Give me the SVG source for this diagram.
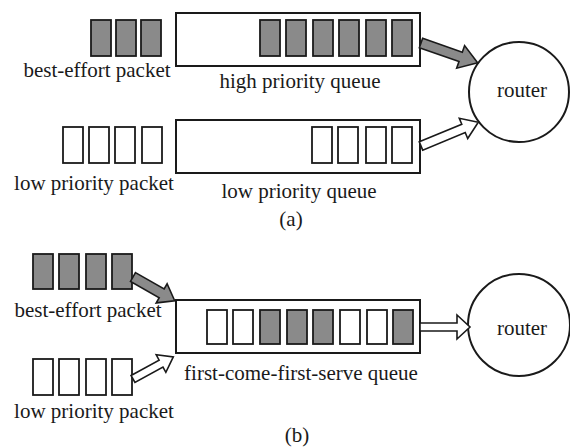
<svg xmlns="http://www.w3.org/2000/svg" width="570" height="447" viewBox="0 0 570 447">
<defs>
<style>
text{font-family:"Liberation Serif","Times New Roman",serif;font-size:21px;fill:#1a1a1a;text-anchor:middle}
.q{fill:#fff;stroke:#1a1a1a;stroke-width:2}
.g{fill:#8a8a8a;stroke:#1a1a1a;stroke-width:1.8}
.w{fill:#fff;stroke:#1a1a1a;stroke-width:1.8}
.r{fill:#fff;stroke:#1a1a1a;stroke-width:2}
.ag{fill:#8a8a8a;stroke:#1a1a1a;stroke-width:1.6;stroke-linejoin:miter}
.aw{fill:#fff;stroke:#1a1a1a;stroke-width:1.6;stroke-linejoin:miter}
</style>
</defs>
<rect width="570" height="447" fill="#fff"/>

<!-- (a) -->
<g id="a-best-effort-packets">
<rect class="g" x="91" y="20" width="20" height="36"/>
<rect class="g" x="116" y="20" width="20" height="36"/>
<rect class="g" x="141" y="20" width="20" height="36"/>
<text x="97" y="77">best-effort packet</text>
</g>
<g id="a-high-queue">
<rect class="q" x="176" y="13" width="244" height="53"/>
<rect class="g" x="260" y="20" width="20" height="36"/>
<rect class="g" x="286" y="20" width="20" height="36"/>
<rect class="g" x="313" y="20" width="20" height="36"/>
<rect class="g" x="339" y="20" width="20" height="36"/>
<rect class="g" x="366" y="20" width="20" height="36"/>
<rect class="g" x="392" y="20" width="20" height="36"/>
<text x="300" y="88">high priority queue</text>
</g>
<g id="a-low-packets">
<rect class="w" x="63" y="127" width="20" height="36"/>
<rect class="w" x="89" y="127" width="20" height="36"/>
<rect class="w" x="115" y="127" width="20" height="36"/>
<rect class="w" x="142" y="127" width="20" height="36"/>
<text x="94" y="190">low priority packet</text>
</g>
<g id="a-low-queue">
<rect class="q" x="176" y="120" width="244" height="53"/>
<rect class="w" x="312" y="127" width="20" height="36"/>
<rect class="w" x="338" y="127" width="20" height="36"/>
<rect class="w" x="366" y="127" width="20" height="36"/>
<rect class="w" x="392" y="127" width="20" height="36"/>
<text x="299" y="198">low priority queue</text>
</g>
<g id="a-router">
<circle class="r" cx="519" cy="92" r="50"/>
<text x="522" y="97">router</text>
</g>
<text x="291" y="226">(a)</text>

<!-- (b) -->
<g id="b-best-effort-packets">
<rect class="g" x="33" y="254" width="20" height="35"/>
<rect class="g" x="59" y="254" width="20" height="35"/>
<rect class="g" x="86" y="254" width="20" height="35"/>
<rect class="g" x="112" y="254" width="20" height="35"/>
<text x="88" y="317">best-effort packet</text>
</g>
<g id="b-low-packets">
<rect class="w" x="33" y="359" width="20" height="36"/>
<rect class="w" x="59" y="359" width="20" height="36"/>
<rect class="w" x="86" y="359" width="20" height="36"/>
<rect class="w" x="112" y="359" width="20" height="36"/>
<text x="94" y="418">low priority packet</text>
</g>
<g id="b-fcfs-queue">
<rect class="q" x="176" y="300" width="244" height="53"/>
<rect class="w" x="207" y="310" width="20" height="34"/>
<rect class="w" x="233" y="310" width="20" height="34"/>
<rect class="g" x="260" y="310" width="20" height="34"/>
<rect class="g" x="287" y="310" width="20" height="34"/>
<rect class="g" x="313" y="310" width="20" height="34"/>
<rect class="w" x="340" y="310" width="20" height="34"/>
<rect class="w" x="367" y="310" width="20" height="34"/>
<rect class="g" x="393" y="310" width="20" height="34"/>
<text x="301" y="380">first-come-first-serve queue</text>
</g>
<g id="b-router">
<circle class="r" cx="519" cy="325" r="51"/>
<text x="522" y="335">router</text>
</g>
<text x="297" y="442">(b)</text>

<g id="connectors">
<polygon class="ag" transform="translate(421,43) rotate(19.3)" points="0,-5 42,-5 42,-12 60,0 42,12 42,5 0,5"/>
<polygon class="aw" transform="translate(421,146) rotate(-22.5)" points="0,-4.5 46,-4.5 46,-11 62,0 46,11 46,4.5 0,4.5"/>
<polygon class="ag" transform="translate(133,277) rotate(29.7)" points="0,-5 33,-5 33,-11 48,0 33,11 33,5 0,5"/>
<polygon class="aw" transform="translate(133,379) rotate(-28.8)" points="0,-4 32,-4 32,-10 46,0 32,10 32,4 0,4"/>
<polygon class="aw" points="420,323 457,323 457,315 470,327 457,339 457,331 420,331"/>
</g>
</svg>
